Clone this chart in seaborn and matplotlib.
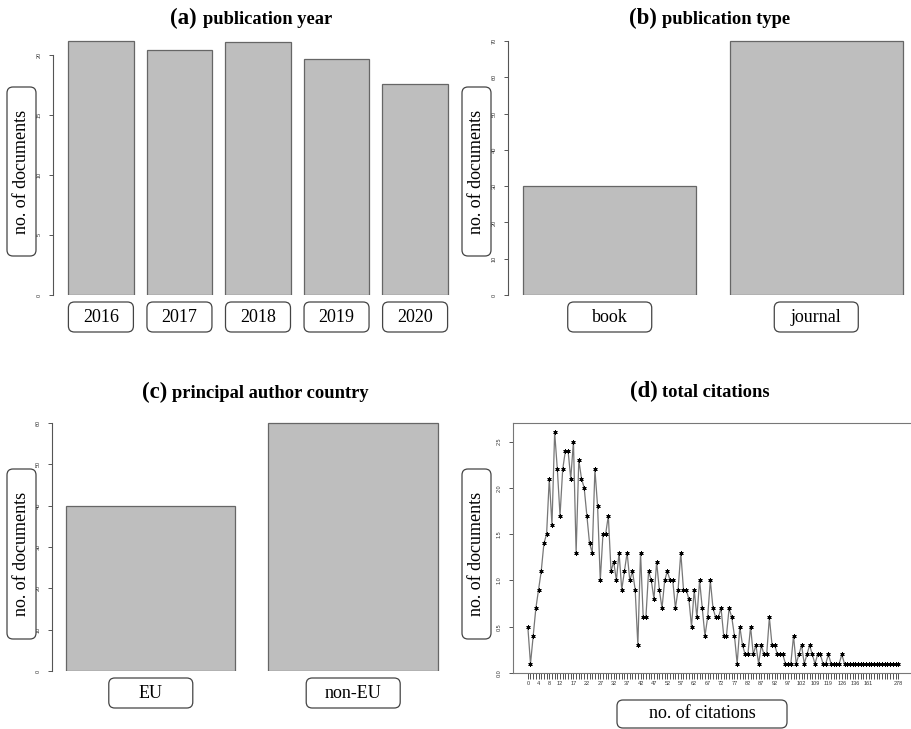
import numpy as np
import pandas as pd
import matplotlib
matplotlib.use("Agg")
import matplotlib.pyplot as plt
from matplotlib.patches import FancyBboxPatch
import seaborn as sns

# ---------------- data ----------------
years = ["2016", "2017", "2018", "2019", "2020"]
year_docs = [21.2, 20.4, 21.1, 19.7, 17.6]

pub_types = ["book", "journal"]
type_docs = [30, 70]

countries = ["EU", "non-EU"]
country_docs = [40, 60]

citations = list(range(0, 103)) + [
    103, 104, 105, 107, 109, 110, 111, 113, 115, 119, 120, 122, 123, 124, 126,
    128, 130, 132, 134, 136, 139, 143, 150, 155, 161, 170, 177, 185, 193, 200,
    212, 225, 240, 251, 262, 278]
citation_docs = [
    0.5, 0.1, 0.4, 0.7, 0.9, 1.1, 1.4, 1.5, 2.1, 1.6,
    2.6, 2.2, 1.7, 2.2, 2.4, 2.4, 2.1, 2.5, 1.3, 2.3,
    2.1, 2.0, 1.7, 1.4, 1.3, 2.2, 1.8, 1.0, 1.5, 1.5,
    1.7, 1.1, 1.2, 1.0, 1.3, 0.9, 1.1, 1.3, 1.0, 1.1,
    0.9, 0.3, 1.3, 0.6, 0.6, 1.1, 1.0, 0.8, 1.2, 0.9,
    0.7, 1.0, 1.1, 1.0, 1.0, 0.7, 0.9, 1.3, 0.9, 0.9,
    0.8, 0.5, 0.9, 0.6, 1.0, 0.7, 0.4, 0.6, 1.0, 0.7,
    0.6, 0.6, 0.7, 0.4, 0.4, 0.7, 0.6, 0.4, 0.1, 0.5,
    0.3, 0.2, 0.2, 0.5, 0.2, 0.3, 0.1, 0.3, 0.2, 0.2,
    0.6, 0.3, 0.3, 0.2, 0.2, 0.2, 0.1, 0.1, 0.1, 0.4,
    0.1, 0.2, 0.3, 0.1, 0.2, 0.3, 0.2, 0.1, 0.2, 0.2,
    0.1, 0.1, 0.2, 0.1, 0.1, 0.1, 0.1, 0.2, 0.1, 0.1,
    0.1, 0.1, 0.1, 0.1, 0.1, 0.1, 0.1, 0.1, 0.1, 0.1,
    0.1, 0.1, 0.1, 0.1, 0.1, 0.1, 0.1, 0.1, 0.1]
shown_citation_labels = [0, 4, 8, 12, 17, 22, 27, 32, 37, 42, 47, 52, 57, 62,
                         67, 72, 77, 82, 87, 92, 97, 102, 109, 119, 126, 136,
                         161, 278]

# ---------------- style ----------------
sns.set_style("white")
plt.rcParams["font.family"] = ["Liberation Serif", "DejaVu Serif"]
plt.rcParams["text.color"] = "black"
SANS = ["Liberation Sans", "DejaVu Sans"]
BAR = "#BEBEBE"
EDGE = "#666666"
AXC = "#555555"

W, H = 911, 729
fig = plt.figure(figsize=(W / 100, H / 100), dpi=100)


def px_axes(left, top, right, bottom):
    return fig.add_axes([left / W, 1 - bottom / H, (right - left) / W, (bottom - top) / H])


def rbox(cx, cy, w, h, text, size=13, rotation=0):
    x0 = (cx - w / 2) / W
    y0 = 1 - (cy + h / 2) / H
    p = FancyBboxPatch((x0, y0), w / W, h / H,
                       boxstyle="round,pad=0,rounding_size=%f" % (6 / W),
                       mutation_aspect=W / H, transform=fig.transFigure,
                       facecolor="white", edgecolor="#444444", linewidth=0.9)
    fig.add_artist(p)
    fig.text(cx / W, 1 - cy / H, text, ha="center", va="center",
             fontsize=size, rotation=rotation, rotation_mode="anchor",
             color="black")


def title(xsplit, baseline, tag, text, gap=5):
    fig.text(xsplit / W, 1 - baseline / H, tag, ha="right", va="baseline",
             fontsize=16.5, fontweight="bold", color="black")
    fig.text((xsplit + gap) / W, 1 - baseline / H, text, ha="left", va="baseline",
             fontsize=13.3, fontweight="bold", color="black")


def bar_panel(ax, cats, vals, width, xlim, ylim, yticks):
    df = pd.DataFrame({"cat": cats, "val": vals})
    sns.barplot(data=df, x="cat", y="val", ax=ax, color=BAR, saturation=1,
                width=width, edgecolor=EDGE, linewidth=0.9)
    ax.set_xlim(*xlim)
    ax.set_ylim(*ylim)
    ax.set_xlabel("")
    ax.set_ylabel("")
    ax.set_xticks([])
    ax.set_yticks(yticks)
    ax.set_yticklabels([str(t) for t in yticks], rotation=90, va="center",
                       fontsize=4, family=SANS, color="#333333")
    for s in ["top", "right", "bottom"]:
        ax.spines[s].set_visible(False)
    ax.spines["left"].set_bounds(yticks[0], yticks[-1])
    ax.spines["left"].set_color(AXC)
    ax.spines["left"].set_linewidth(0.8)
    ax.tick_params(axis="y", length=3, width=0.7, color=AXC, pad=5, left=True)
    ax.patch.set_alpha(0)


def cat_boxes(ax, cats, cy, widths):
    for i, c in enumerate(cats):
        dx, _ = ax.transData.transform((i, 0))
        rbox(dx, cy, widths[i], 30, c)


# (a)
axA = px_axes(53, 31, 463, 295)
bar_panel(axA, years, year_docs, 0.833, (-0.61, 4.61), (0, 22), [0, 5, 10, 15, 20])
cat_boxes(axA, years, 317, [65] * 5)
rbox(21.5, 171.5, 29, 169, "no. of documents", rotation=90)
title(197, 24, "(a)", "publication year", gap=6)

# (b)
axB = px_axes(508, 31, 918, 295)
bar_panel(axB, pub_types, type_docs, 0.84, (-0.4925, 1.4925), (0, 72.8),
          [0, 10, 20, 30, 40, 50, 60, 70])
cat_boxes(axB, pub_types, 317, [84, 84])
rbox(476.5, 171.5, 29, 169, "no. of documents", rotation=90)
title(657, 24, "(b)", "publication type")

# (c)
axC = px_axes(52, 413, 453, 671)
bar_panel(axC, countries, country_docs, 0.837, (-0.488, 1.493), (0, 62.4),
          [0, 10, 20, 30, 40, 50, 60])
cat_boxes(axC, countries, 693, [84, 94])
rbox(21.5, 554, 29, 170, "no. of documents", rotation=90)
title(167, 398, "(c)", "principal author country")

# (d)
axD = px_axes(513, 423, 913, 673)
pos = np.arange(len(citations))
sns.lineplot(x=pos, y=citation_docs, ax=axD, color="#777777", linewidth=0.9,
             marker=(6, 2, 0), markersize=3, markeredgecolor="black",
             markerfacecolor="black", markeredgewidth=0.7)
axD.set_xlim(-5.52, 143.52)
axD.set_ylim(0, 2.7)
axD.set_xticks(pos)
axD.set_xticklabels([str(c) if c in shown_citation_labels else "" for c in citations],
                    fontsize=4, family=SANS, color="#333333")
yt = [0.0, 0.5, 1.0, 1.5, 2.0, 2.5]
axD.set_yticks(yt)
axD.set_yticklabels(["%.1f" % t for t in yt], rotation=90, va="center",
                    fontsize=4, family=SANS, color="#333333")
axD.tick_params(axis="x", length=4, width=0.6, color="#333333", pad=2, bottom=True)
axD.tick_params(axis="y", length=3, width=0.7, color=AXC, pad=5, left=True)
for s in axD.spines.values():
    s.set_color("#777777")
    s.set_linewidth(0.8)
axD.set_xlabel("")
axD.set_ylabel("")
rbox(476.5, 554, 29, 170, "no. of documents", rotation=90)
rbox(702, 714, 170, 28, "no. of citations")
title(658, 397, "(d)", "total citations", gap=4)

fig.savefig("out.png", dpi=100, facecolor="white")
